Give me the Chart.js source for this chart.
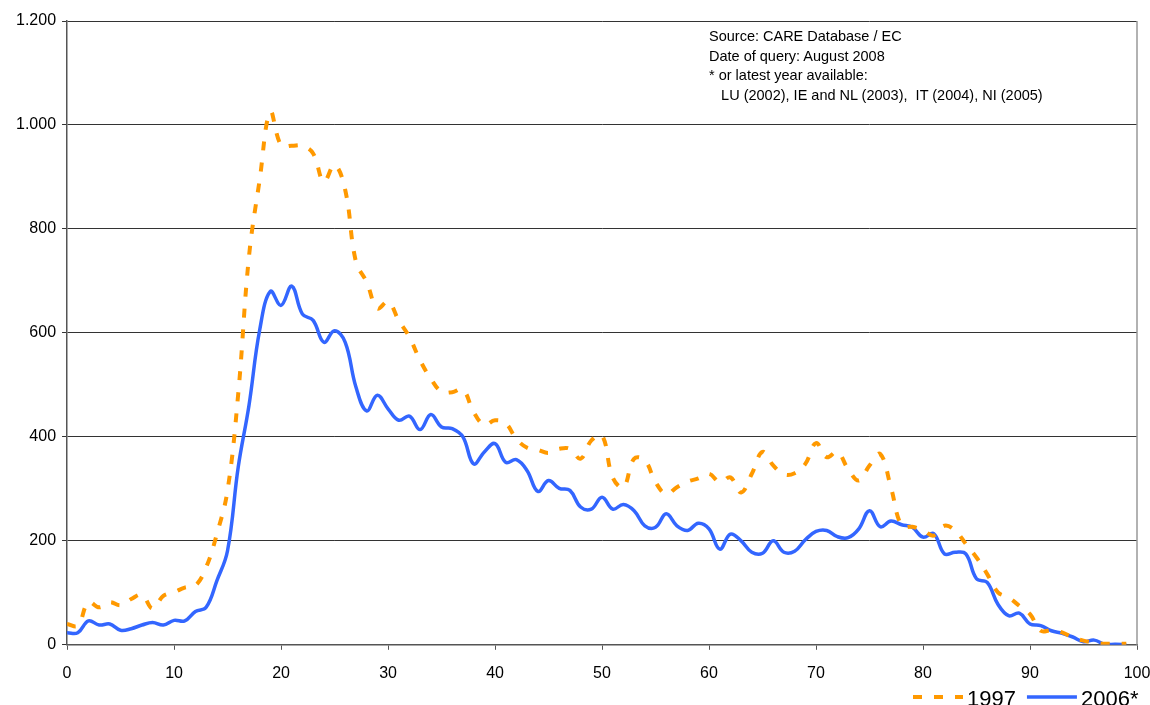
<!DOCTYPE html>
<html>
<head>
<meta charset="utf-8">
<script src="https://cdn.jsdelivr.net/npm/chart.js@4.4.1/dist/chart.umd.min.js"></script>
<style>
    body { margin: 0; background: #fff; }
    #wrap { position: relative; width: 1150px; height: 705px; overflow: hidden; }
    #note {
        position: absolute; left: 709px; top: 27px;
        font-family: "Liberation Sans", Arial, sans-serif;
        font-size: 14.5px; line-height: 19.5px; color: #000;
        white-space: pre;
    }
</style>
</head>
<body>
<div id="wrap">
    <canvas id="chart" width="1150" height="705"></canvas>
    <div id="note">Source: CARE Database / EC
Date of query: August 2008
* or latest year available:
   LU (2002), IE and NL (2003),  IT (2004), NI (2005)</div>
</div>
<script>
// ages 0..99
var ages = [];
for (var a = 0; a <= 99; a++) ages.push(a);

var y1997 = [40, 37, 82, 72, 82, 76, 88, 96, 70, 94,
    101, 110, 114, 149, 213, 297, 483, 746, 894, 1025,
    961, 960, 960, 945, 891, 923, 875, 737, 698, 647,
    660, 624, 592, 547, 512, 487, 486, 491, 448, 423,
    432, 426, 396, 379, 375, 369, 377, 377, 358, 393,
    403, 322, 303, 358, 355, 313, 290, 303, 314, 320,
    329, 313, 322, 293, 329, 371, 345, 328, 330, 348,
    388, 361, 371, 338, 316, 345, 367, 303, 229, 227,
    220, 210, 229, 220, 194, 168, 136, 101, 91, 75,
    59, 27, 28, 24, 14, 8, 4, 2, 2, 2];

var y2006 = [23, 23, 46, 38, 40, 28, 31, 38, 43, 38,
    47, 46, 64, 72, 123, 181, 342, 460, 605, 680,
    653, 690, 636, 624, 582, 604, 582, 496, 450, 480,
    454, 432, 440, 414, 443, 419, 416, 400, 348, 371,
    387, 351, 356, 335, 295, 316, 301, 297, 265, 261,
    284, 261, 270, 258, 229, 226, 252, 229, 220, 234,
    223, 184, 213, 200, 178, 176, 200, 178, 180, 202,
    218, 220, 208, 206, 223, 258, 227, 238, 231, 226,
    207, 214, 175, 178, 175, 127, 120, 78, 56, 61,
    40, 37, 27, 22, 15, 6, 9, 1, 1, 0];

var seriesNames = ['1997', '2006*'];

function toPoints(vals) {
    return vals.map(function (v, i) { return {x: ages[i], y: v}; });
}

// thousands with a dot, like the original
function fmt(v) {
    return String(v).replace(/\B(?=(\d{3})+(?!\d))/g, '.');
}

var font = "'Liberation Sans', Arial, sans-serif";

// right frame line + legend drawn by hand so the dash of 1997 shows in the sample
var lineLegend = {
    id: 'lineLegend',
    beforeDatasetsDraw: function (chart) {
        var c = chart.ctx, area = chart.chartArea;
        c.save();
        c.strokeStyle = '#999';
        c.lineWidth = 1.5;
        c.beginPath();
        c.moveTo(area.right, area.top);
        c.lineTo(area.right, area.bottom);
        c.stroke();
        c.restore();
    },
    afterDraw: function (chart) {
        var c = chart.ctx;
        var x = 913, y = 697;
        c.save();
        c.font = '22px ' + font;
        c.textBaseline = 'alphabetic';
        c.fillStyle = '#000';
        chart.data.datasets.forEach(function (ds) {
            c.strokeStyle = ds.borderColor;
            c.lineWidth = ds.borderWidth;
            c.setLineDash(ds.borderDash || []);
            c.beginPath();
            c.moveTo(x, y);
            c.lineTo(x + 50, y);
            c.stroke();
            c.setLineDash([]);
            c.fillText(ds.label, x + 54, 706);
            x += 54 + c.measureText(ds.label).width + 11;
        });
        c.restore();
    }
};

var ctx = document.getElementById('chart').getContext('2d');
var chart = new Chart(ctx, {
    type: 'line',
    data: {
        datasets: [{
            label: seriesNames[0],
            data: toPoints(y1997),
            borderColor: '#FF9900',
            backgroundColor: '#FF9900',
            borderWidth: 4,
            borderDash: [9, 12],
            pointRadius: 0,
            tension: 0.4,
            fill: false
        }, {
            label: seriesNames[1],
            data: toPoints(y2006),
            borderColor: '#3366FF',
            backgroundColor: '#3366FF',
            borderWidth: 3.5,
            pointRadius: 0,
            tension: 0.4,
            fill: false
        }]
    },
    options: {
        responsive: false,
        animation: false,
        layout: { autoPadding: false, padding: { left: 10, right: 13, top: 21, bottom: 8 } },
        plugins: {
            tooltip: { enabled: false },
            legend: { display: false }
        },
        scales: {
            x: {
                type: 'linear',
                min: 0, max: 100,
                ticks: { stepSize: 10, color: '#000', font: { family: font, size: 16 }, padding: 14 },
                grid: { drawOnChartArea: false, drawTicks: true, tickLength: 5, color: '#555' },
                border: { color: '#555', width: 1.5 },
                // let the "100" label run past the plot edge, as in the original
                afterFit: function (scale) { scale.paddingRight = 0; scale.paddingLeft = 0; }
            },
            y: {
                min: 0, max: 1200,
                ticks: {
                    stepSize: 200, color: '#000', padding: 6,
                    font: { family: font, size: 16 },
                    callback: function (v) { return fmt(v); }
                },
                grid: { color: '#333', lineWidth: 1, tickLength: 5 },
                border: { color: '#555', width: 1.5 }
            }
        }
    },
    plugins: [lineLegend]
});
</script>
</body>
</html>
